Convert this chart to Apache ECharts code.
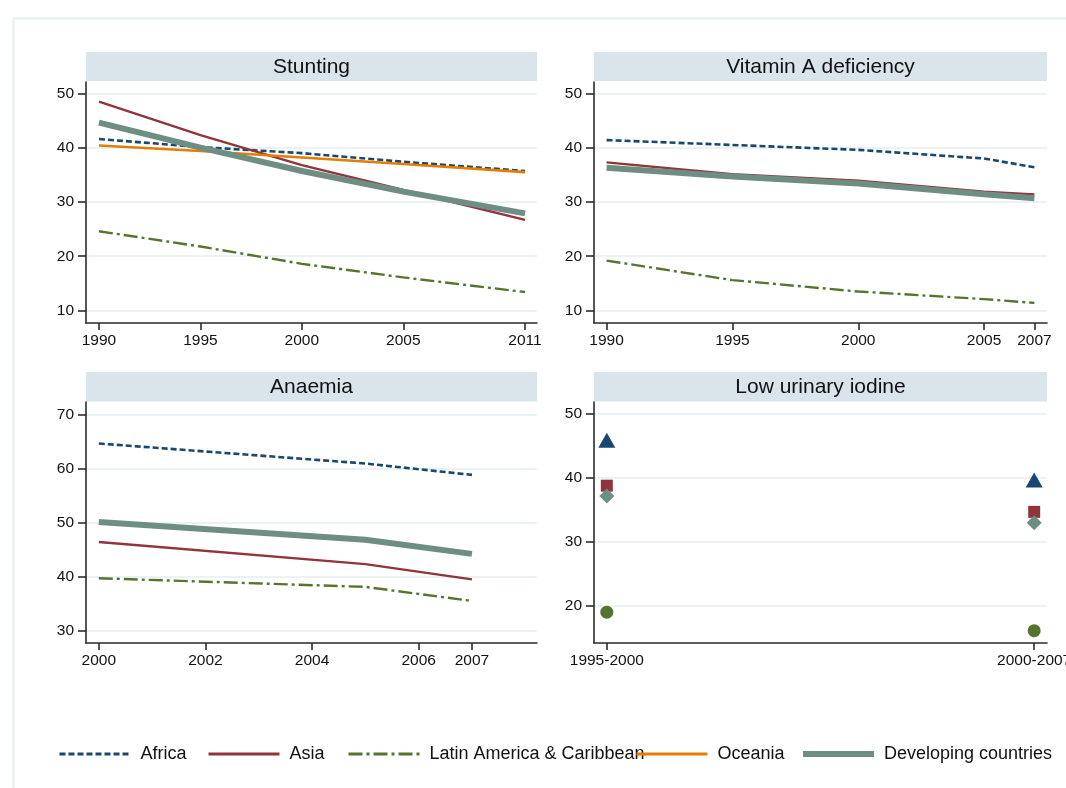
<!DOCTYPE html>
<html>
<head>
<meta charset="utf-8">
<script src="https://cdn.jsdelivr.net/npm/echarts@6/dist/echarts.min.js"></script>
<style>
  html, body { margin: 0; padding: 0; background: #fff; }
  #chart { width: 1066px; height: 788px; }
</style>
</head>
<body>
<div id="chart"></div>
<script>
// Stunting prevalence (%)
const stuntYears = [1990, 1995, 2000, 2005, 2011];
const stuntAfrica = [41.6, 40.1, 39.0, 37.4, 35.7];
const stuntAsia = [48.5, 42.3, 36.8, 32.2, 26.7];
const stuntLatAm = [24.6, 21.8, 18.6, 16.1, 13.4];
const stuntOceania = [40.4, 39.4, 38.2, 37.0, 35.5];
const stuntDeveloping = [44.6, 40.0, 35.7, 31.9, 27.9];

// Vitamin A deficiency (%)
const vitYears = [1990, 1995, 2000, 2005, 2007];
const vitAfrica = [41.4, 40.5, 39.6, 38.0, 36.4];
const vitAsia = [37.3, 35.1, 33.9, 31.9, 31.4];
const vitLatAm = [19.2, 15.6, 13.5, 12.1, 11.4];
const vitDeveloping = [36.3, 34.7, 33.4, 31.4, 30.7];

// Anaemia (%)
const anYears = [2000, 2005, 2007];
const anAfrica = [64.6, 60.9, 58.8];
const anAsia = [46.4, 42.3, 39.5];
const anLatAm = [39.7, 38.1, 35.5];
const anDeveloping = [50.1, 46.8, 44.2];

// Low urinary iodine (%)
const iodPeriods = ['1995-2000', '2000-2007'];
const iodAfrica = [45.9, 39.7];
const iodAsia = [38.8, 34.7];
const iodLatAm = [19.0, 16.1];
const iodDeveloping = [37.2, 33.0];

// Tick labels
const stuntXTicks = [1990, 1995, 2000, 2005, 2011];
const vitXTicks = [1990, 1995, 2000, 2005, 2007];
const anXTicks = [2000, 2002, 2004, 2006, 2007];
const iodXTicks = [1, 2];
const stuntYTicks = [10, 20, 30, 40, 50];
const vitYTicks = [10, 20, 30, 40, 50];
const anYTicks = [30, 40, 50, 60, 70];
const iodYTicks = [20, 30, 40, 50];

const panelTitles = ['Stunting', 'Vitamin A deficiency', 'Anaemia', 'Low urinary iodine'];
const regionNames = ['Africa', 'Asia', 'Latin America & Caribbean', 'Oceania', 'Developing countries'];

const FONT = '"Liberation Sans", Arial, sans-serif';
const colors = {
  'Africa': '#1a476f',
  'Asia': '#90353b',
  'Latin America & Caribbean': '#55752f',
  'Oceania': '#e37e00',
  'Developing countries': '#6e8e84'
};
const lineStyles = {
  'Africa': { width: 2.6, type: [6, 3] },
  'Asia': { width: 2.4, type: 'solid' },
  'Latin America & Caribbean': { width: 2.4, type: [14, 4, 3, 4] },
  'Oceania': { width: 2.6, type: 'solid' },
  'Developing countries': { width: 6, type: 'solid' }
};

const grids = [
  { left: 86, top: 82, width: 451, height: 241 },
  { left: 594, top: 82, width: 453, height: 241 },
  { left: 86, top: 402, width: 451, height: 241 },
  { left: 594, top: 402, width: 453, height: 241 }
].map(g => Object.assign({ outerBoundsMode: 'none', containLabel: false }, g));

const axisLineStyle = { color: '#2b2b2b', width: 1.6 };
const labelStyle = { color: '#111', fontSize: 15.5, fontFamily: FONT };

function xAxis(gridIndex, min, max, ticks, fmt) {
  return {
    type: 'value', gridIndex, min, max,
    axisLine: { show: true, onZero: false, lineStyle: axisLineStyle },
    axisTick: { show: true, inside: false, length: 7, lineStyle: axisLineStyle, customValues: ticks },
    axisLabel: Object.assign({ customValues: ticks, margin: 10, hideOverlap: false, formatter: fmt || (v => String(v)) }, labelStyle),
    splitLine: { show: false }
  };
}
function yAxis(gridIndex, min, max, ticks) {
  return {
    type: 'value', gridIndex, min, max,
    axisLine: { show: true, onZero: false, lineStyle: axisLineStyle },
    axisTick: { show: true, inside: false, length: 8, lineStyle: axisLineStyle, customValues: ticks },
    axisLabel: Object.assign({ customValues: ticks, margin: 12, formatter: v => String(v) }, labelStyle),
    splitLine: { show: true, lineStyle: { color: '#e5eef1', width: 1.6 } }
  };
}

function lineSeries(name, idx, xs, ys) {
  return {
    type: 'line', name, xAxisIndex: idx, yAxisIndex: idx,
    data: xs.map((x, i) => [x, ys[i]]),
    symbol: 'none', showSymbol: false, silent: true,
    lineStyle: Object.assign({ color: colors[name] }, lineStyles[name]),
    itemStyle: { color: colors[name] },
    z: name === 'Developing countries' ? 3 : 2
  };
}
function markerSeries(name, idx, xs, ys, symbol, size) {
  return {
    type: 'scatter', name, xAxisIndex: idx, yAxisIndex: idx,
    data: xs.map((x, i) => [x, ys[i]]),
    symbol, symbolSize: size, silent: true,
    itemStyle: { color: colors[name], opacity: 1 }
  };
}

const iodX = iodPeriods.map((p, i) => i + 1);

const series = [
  lineSeries('Africa', 0, stuntYears, stuntAfrica),
  lineSeries('Asia', 0, stuntYears, stuntAsia),
  lineSeries('Latin America & Caribbean', 0, stuntYears, stuntLatAm),
  lineSeries('Oceania', 0, stuntYears, stuntOceania),
  lineSeries('Developing countries', 0, stuntYears, stuntDeveloping),

  lineSeries('Africa', 1, vitYears, vitAfrica),
  lineSeries('Asia', 1, vitYears, vitAsia),
  lineSeries('Latin America & Caribbean', 1, vitYears, vitLatAm),
  lineSeries('Developing countries', 1, vitYears, vitDeveloping),

  lineSeries('Africa', 2, anYears, anAfrica),
  lineSeries('Asia', 2, anYears, anAsia),
  lineSeries('Latin America & Caribbean', 2, anYears, anLatAm),
  lineSeries('Developing countries', 2, anYears, anDeveloping),

  markerSeries('Africa', 3, iodX, iodAfrica, 'triangle', [17, 15]),
  markerSeries('Asia', 3, iodX, iodAsia, 'rect', 12),
  markerSeries('Developing countries', 3, iodX, iodDeveloping, 'diamond', [15, 15]),
  markerSeries('Latin America & Caribbean', 3, iodX, iodLatAm, 'circle', 13)
];

// Panel header strips
const strips = [
  { x: 86, y: 52, w: 451, h: 29 },
  { x: 594, y: 52, w: 453, h: 29 },
  { x: 86, y: 372, w: 451, h: 29.5 },
  { x: 594, y: 372, w: 453, h: 29.5 }
];
const graphic = [
  { type: 'rect', left: 11, top: 16, shape: { x: 0, y: 0, width: 1080, height: 800 },
    style: { fill: 'none', stroke: '#e6efef', lineWidth: 2 }, silent: true, z: -10 }
];
strips.forEach((s, i) => {
  graphic.push({ type: 'rect', shape: { x: s.x, y: s.y, width: s.w, height: s.h },
    style: { fill: '#d9e5eb' }, silent: true, z: -5 });
  graphic.push({ type: 'text', x: s.x + s.w / 2, y: s.y + s.h / 2 + 0.5,
    style: { text: panelTitles[i], fill: '#111', font: '21px ' + FONT, textAlign: 'center', textVerticalAlign: 'middle' },
    silent: true, z: 10 });
});

// One legend block per region so each key sits at its own spot along the bottom
const legendLeft = [58, 207, 347, 635, 800];
const legends = regionNames.map((name, i) => ({
  data: [name],
  left: legendLeft[i], top: 745,
  orient: 'horizontal',
  itemWidth: 71, itemHeight: 14,
  selectedMode: false,
  padding: 0,
  textStyle: { color: '#111', fontSize: 18, fontFamily: FONT, padding: [0, 0, 0, 5] },
  itemStyle: { opacity: 0 },
  lineStyle: { width: name === 'Developing countries' ? 6 : 3 }
}));

const option = {
  animation: false,
  backgroundColor: '#fff',
  grid: grids,
  xAxis: [
    xAxis(0, 1989.36, 2011.59, stuntXTicks),
    xAxis(1, 1989.5, 2007.5, vitXTicks),
    xAxis(2, 1999.76, 2008.22, anXTicks),
    xAxis(3, 0.97, 2.03, iodXTicks, v => iodPeriods[Math.round(v) - 1] || '')
  ],
  yAxis: [
    yAxis(0, 7.7, 52.1, stuntYTicks),
    yAxis(1, 7.7, 52.1, vitYTicks),
    yAxis(2, 27.73, 72.27, anYTicks),
    yAxis(3, 14.17, 51.9, iodYTicks)
  ],
  legend: legends,
  graphic,
  series
};

const chart = echarts.init(document.getElementById('chart'), null, { renderer: 'canvas' });
chart.setOption(option);
</script>
</body>
</html>
